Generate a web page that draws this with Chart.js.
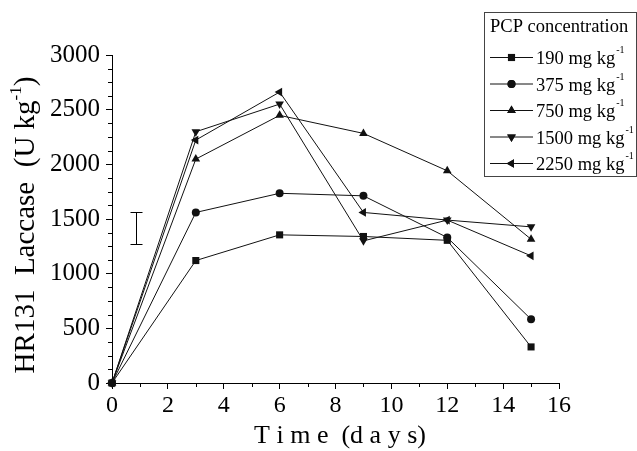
<!DOCTYPE html>
<html>
<head>
<meta charset="utf-8">
<script src="https://cdn.jsdelivr.net/npm/chart.js@4"></script>
<style>
  html, body { margin: 0; padding: 0; background: #fff; }
  #wrap { width: 637px; height: 451px; }
</style>
</head>
<body>
<div id="wrap"><canvas id="chart" width="637" height="451"></canvas></div>
<script>
// Data
const days = [0, 3, 6, 9, 12, 15];
const c190 = [0, 1120, 1355, 1340, 1305, 330];
const c375 = [0, 1560, 1735, 1712, 1331, 583];
const c750 = [0, 2048, 2448, 2283, 1941, 1315];
const c1500 = [0, 2298, 2551, 1300, 1490, 1428];
const c2250 = [0, 2222, 2661, 1560, 1490, 1163];
const seriesNames = ['190', '375', '750', '1500', '2250'];
const xTicks = [0, 2, 4, 6, 8, 10, 12, 14, 16];
const yTicks = [0, 500, 1000, 1500, 2000, 2500, 3000];
// error bar (x position, low, high)
const errX = 0.85, errLow = 1270, errHigh = 1563;

const SERIF = "'Liberation Serif', 'Times New Roman', serif";
const markers = [
  { style: 'rect', rot: 0, r: 5 },
  { style: 'circle', rot: 0, r: 4 },
  { style: 'triangle', rot: 0, r: 5 },
  { style: 'triangle', rot: 180, r: 5 },
  { style: 'triangle', rot: 270, r: 5 }
];
const allSeries = [c190, c375, c750, c1500, c2250];

const datasets = allSeries.map((vals, i) => ({
  label: seriesNames[i] + ' mg kg-1',
  data: days.map((d, j) => ({ x: d, y: vals[j] })),
  borderColor: '#111',
  backgroundColor: '#111',
  borderWidth: 1,
  pointStyle: markers[i].style,
  pointRotation: markers[i].rot,
  pointRadius: markers[i].r,
  pointHoverRadius: markers[i].r,
  pointBorderWidth: 0,
  tension: 0,
  clip: false
}));

// minor ticks, error bar, titles, legend
const extras = {
  id: 'extras',
  afterDraw(chart) {
    const ctx = chart.ctx;
    const xs = chart.scales.x, ys = chart.scales.y;
    const left = chart.chartArea.left, bottom = chart.chartArea.bottom;
    ctx.save();
    ctx.strokeStyle = '#000';
    ctx.lineWidth = 1;
    // minor ticks
    ctx.beginPath();
    for (let v = 1; v < 16; v += 2) {
      const px = Math.round(xs.getPixelForValue(v)) + 0.5;
      ctx.moveTo(px, bottom); ctx.lineTo(px, bottom + 4);
    }
    for (let v = 125; v < 3000; v += 125) {
      if (v % 500 === 0) continue;
      const py = Math.round(ys.getPixelForValue(v)) + 0.5;
      ctx.moveTo(left, py); ctx.lineTo(left - 4, py);
    }
    ctx.stroke();

    // error bar
    const ex = Math.round(xs.getPixelForValue(errX)) + 0.5;
    const et = Math.round(ys.getPixelForValue(errHigh)) + 0.5;
    const eb = Math.round(ys.getPixelForValue(errLow)) + 0.5;
    ctx.beginPath();
    ctx.moveTo(ex, et); ctx.lineTo(ex, eb);
    ctx.moveTo(ex - 6, et); ctx.lineTo(ex + 6, et);
    ctx.moveTo(ex - 6, eb); ctx.lineTo(ex + 6, eb);
    ctx.stroke();

    ctx.fillStyle = '#000';
    // x title
    ctx.font = '26px ' + SERIF;
    ctx.textAlign = 'center';
    ctx.textBaseline = 'alphabetic';
    ctx.fillText('T i m e  (d a y s)', 340, 443);

    // y title, rotated, with superscript
    ctx.save();
    ctx.translate(34, 225);
    ctx.rotate(-Math.PI / 2);
    const big = '29px ' + SERIF, small = '17px ' + SERIF;
    ctx.font = big;
    const p1 = 'HR131  Laccase  (U kg', p3 = ')';
    ctx.font = small; const w2 = ctx.measureText('-1').width;
    ctx.font = big;
    const w1 = ctx.measureText(p1).width, w3 = ctx.measureText(p3).width;
    let sx = -(w1 + w2 + w3) / 2;
    ctx.textAlign = 'left';
    ctx.fillText(p1, sx, 0);
    ctx.font = small; ctx.fillText('-1', sx + w1, -13);
    ctx.font = big; ctx.fillText(p3, sx + w1 + w2, 0);
    ctx.restore();

    // legend box
    ctx.strokeStyle = '#444';
    ctx.strokeRect(484.5, 12.5, 152, 164);
    ctx.font = '18.5px ' + SERIF;
    ctx.textAlign = 'left';
    ctx.fillText('PCP concentration', 490, 32);
    const rowY = [57, 83.5, 110, 136.5, 163];
    seriesNames.forEach((n, i) => {
      const y = rowY[i];
      ctx.strokeStyle = '#111';
      ctx.beginPath();
      ctx.moveTo(490, y + 0.5); ctx.lineTo(533, y + 0.5);
      ctx.stroke();
      ctx.fillStyle = '#111';
      Chart.helpers.drawPoint(ctx, {
        pointStyle: markers[i].style, rotation: markers[i].rot,
        radius: markers[i].r, borderWidth: 0
      }, 511.5, y + 0.5);
      ctx.fill();
      ctx.fillStyle = '#000';
      ctx.font = '18.5px ' + SERIF;
      const t = n + ' mg kg';
      ctx.fillText(t, 536, y + 7);
      const tw = ctx.measureText(t).width;
      ctx.font = '10px ' + SERIF;
      ctx.fillText('-1', 536 + tw + 1, y - 4);
    });
    ctx.restore();
  }
};

new Chart(document.getElementById('chart'), {
  type: 'line',
  data: { datasets },
  options: {
    responsive: false,
    animation: false,
    layout: { padding: { top: 55, right: 78, left: 0, bottom: 0 } },
    plugins: { legend: { display: false }, tooltip: { enabled: false } },
    scales: {
      x: {
        type: 'linear', min: 0, max: 16,
        afterFit: s => { s.height = 68; },
        afterBuildTicks: s => { s.ticks = xTicks.map(v => ({ value: v })); },
        grid: { drawOnChartArea: false, drawTicks: true, tickLength: 6, color: '#000' },
        border: { color: '#000', width: 1 },
        ticks: { color: '#000', padding: 2, maxRotation: 0, font: { family: SERIF, size: 24 },
                 callback: v => String(v) }
      },
      y: {
        type: 'linear', min: 0, max: 3000,
        afterFit: s => { s.width = 112; },
        afterBuildTicks: s => { s.ticks = yTicks.map(v => ({ value: v })); },
        grid: { drawOnChartArea: false, drawTicks: true, tickLength: 6, color: '#000' },
        border: { color: '#000', width: 1 },
        ticks: { color: '#000', padding: 6, font: { family: SERIF, size: 25 },
                 callback: v => String(v) }
      }
    }
  },
  plugins: [extras]
});
</script>
</body>
</html>
